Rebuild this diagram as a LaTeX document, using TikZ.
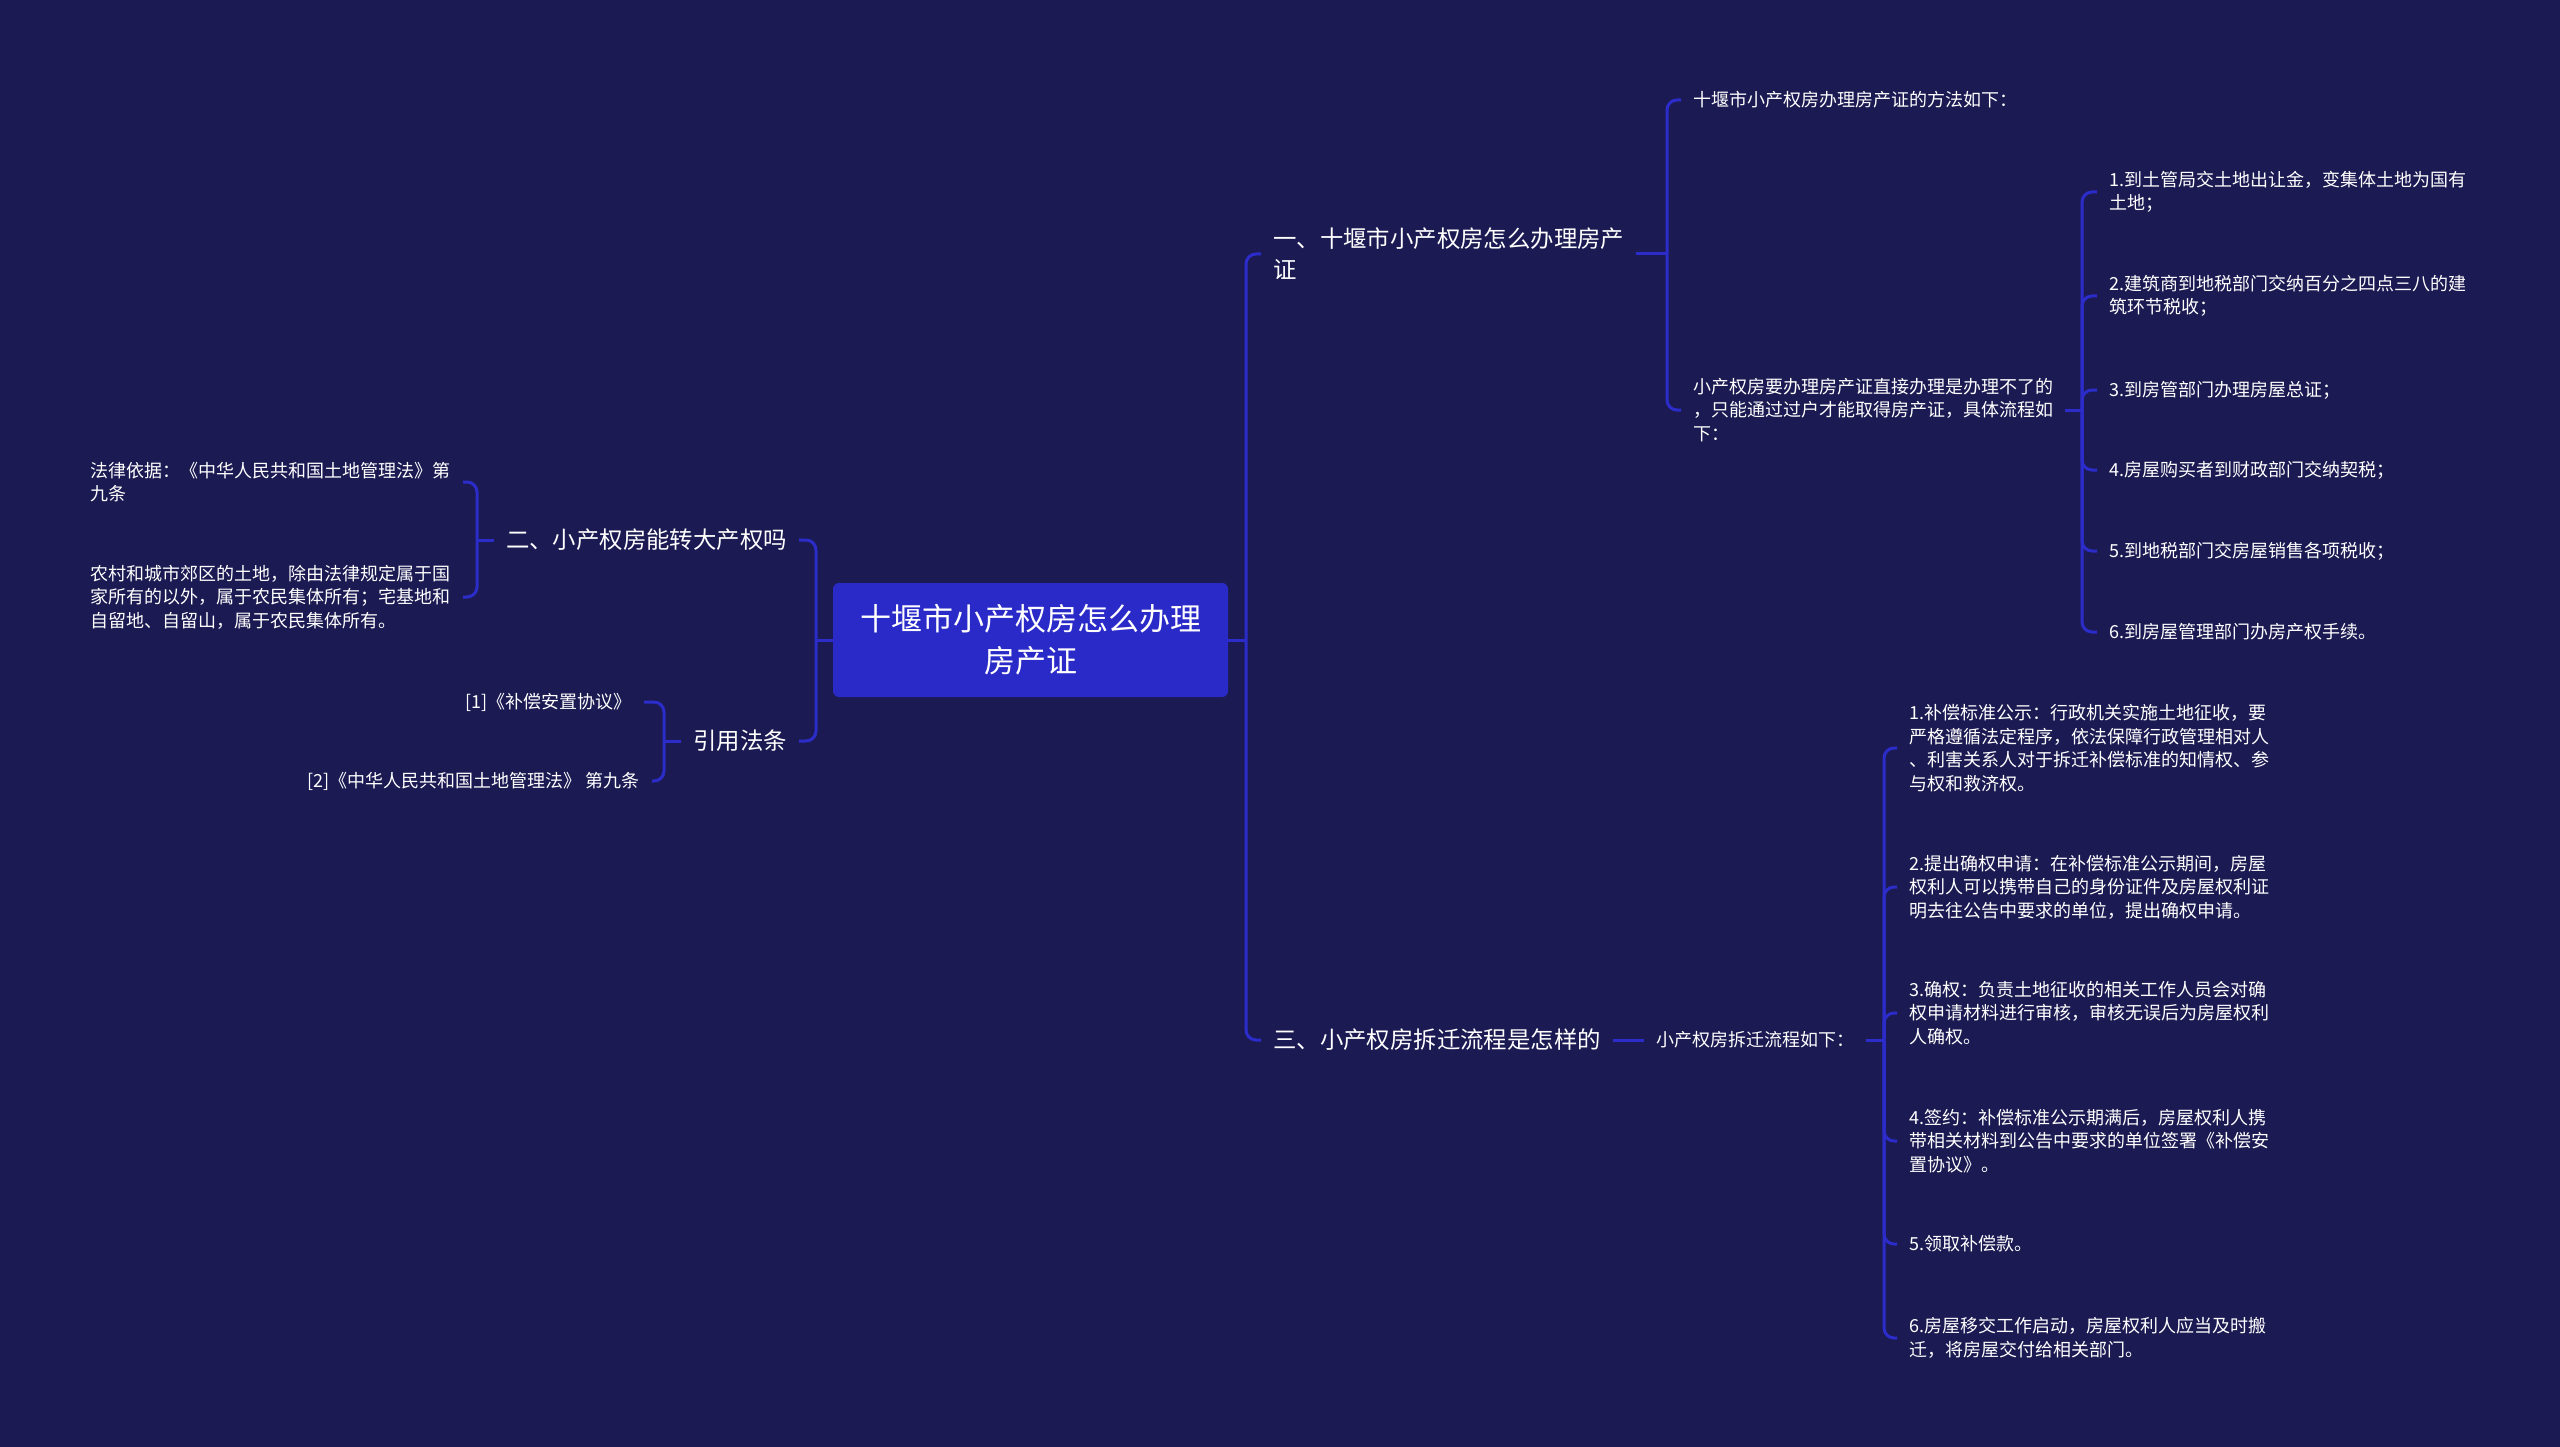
\documentclass[tikz,border=0pt]{standalone}
\usepackage{fontspec}
\setmainfont{Noto Sans CJK SC}
\definecolor{bg}{HTML}{1B1A52}
\definecolor{rootfill}{HTML}{2A2AC8}
\definecolor{edge}{HTML}{2C2CCB}
\tikzset{
  conn/.style={draw=edge, line width=3pt, rounded corners=10pt},
  rootbox/.style={fill=rootfill, rounded corners=6pt, text=white, align=center,
    minimum width=395pt, minimum height=114pt, inner sep=0pt,
    font=\fontsize{31}{42}\selectfont},
  lvlone/.style={text=white, font=\fontsize{23.4}{31}\selectfont, align=left, inner xsep=12pt, inner ysep=3pt},
  leaf/.style={text=white, font=\fontsize{18}{23.5}\selectfont, align=left, inner xsep=12pt, inner ysep=3pt}
}
\begin{document}
\begin{tikzpicture}[x=1pt,y=-1pt]
\fill[bg] (0,0) rectangle (2560,1447);
\useasboundingbox (0,0) rectangle (2560,1447);

% root
\node[rootbox] (root) at (1030.5,640) {十堰市小产权房怎么办理\\房产证};

% right branches
\node[lvlone, anchor=west] (b1) at (1261,254) {一、十堰市小产权房怎么办理房产\\证};
\node[lvlone, anchor=west] (b3) at (1261,1040) {三、小产权房拆迁流程是怎样的};
% left branches
\node[lvlone, anchor=east] (b2) at (799,540) {二、小产权房能转大产权吗};
\node[lvlone, anchor=east] (b4) at (799,741) {引用法条};

% branch 1 children
\node[leaf, anchor=west] (b1a) at (1681,100) {十堰市小产权房办理房产证的方法如下：};
\node[leaf, anchor=west] (b1b) at (1681,410) {小产权房要办理房产证直接办理是办理不了的\\，只能通过过户才能取得房产证，具体流程如\\下：};

\node[leaf, anchor=west] (l1) at (2097,192) {1.到土管局交土地出让金，变集体土地为国有\\土地；};
\node[leaf, anchor=west] (l2) at (2097,296) {2.建筑商到地税部门交纳百分之四点三八的建\\筑环节税收；};
\node[leaf, anchor=west] (l3) at (2097,390) {3.到房管部门办理房屋总证；};
\node[leaf, anchor=west] (l4) at (2097,470) {4.房屋购买者到财政部门交纳契税；};
\node[leaf, anchor=west] (l5) at (2097,551) {5.到地税部门交房屋销售各项税收；};
\node[leaf, anchor=west] (l6) at (2097,632) {6.到房屋管理部门办房产权手续。};

% branch 3 children
\node[leaf, anchor=west] (b3a) at (1644,1040) {小产权房拆迁流程如下：};
\node[leaf, anchor=west] (m1) at (1897,748) {1.补偿标准公示：行政机关实施土地征收，要\\严格遵循法定程序，依法保障行政管理相对人\\、利害关系人对于拆迁补偿标准的知情权、参\\与权和救济权。};
\node[leaf, anchor=west] (m2) at (1897,887) {2.提出确权申请：在补偿标准公示期间，房屋\\权利人可以携带自己的身份证件及房屋权利证\\明去往公告中要求的单位，提出确权申请。};
\node[leaf, anchor=west] (m3) at (1897,1013) {3.确权：负责土地征收的相关工作人员会对确\\权申请材料进行审核，审核无误后为房屋权利\\人确权。};
\node[leaf, anchor=west] (m4) at (1897,1141) {4.签约：补偿标准公示期满后，房屋权利人携\\带相关材料到公告中要求的单位签署《补偿安\\置协议》。};
\node[leaf, anchor=west] (m5) at (1897,1244) {5.领取补偿款。};
\node[leaf, anchor=west] (m6) at (1897,1338) {6.房屋移交工作启动，房屋权利人应当及时搬\\迁，将房屋交付给相关部门。};

% branch 2 children
\node[leaf, anchor=east] (c1) at (463,482) {法律依据：《中华人民共和国土地管理法》第\\九条};
\node[leaf, anchor=east] (c2) at (463,597) {农村和城市郊区的土地，除由法律规定属于国\\家所有的以外，属于农民集体所有；宅基地和\\自留地、自留山，属于农民集体所有。};
% branch 4 children
\node[leaf, anchor=east] (d1) at (644,702) {[1]《补偿安置协议》};
\node[leaf, anchor=east] (d2) at (652,781) {[2]《中华人民共和国土地管理法》 第九条};

% junction coordinates
\coordinate (jr) at (1246,640);
\coordinate (jl) at (816,640);
\coordinate (j1) at (1667,254);
\coordinate (j1b) at (2082,410);
\coordinate (j3) at (1884,1040);
\coordinate (j2) at (477,540);
\coordinate (j4) at (664,741);

% root connectors
\draw[conn] (root.east) -- (jr);
\draw[conn] (jr) |- (b1.west);
\draw[conn] (jr) |- (b3.west);
\draw[conn] (root.west) -- (jl);
\draw[conn] (jl) |- (b2.east);
\draw[conn] (jl) |- (b4.east);

% branch 1
\draw[conn] (b1.east) -- (j1);
\draw[conn] (j1) |- (b1a.west);
\draw[conn] (j1) |- (b1b.west);
\draw[conn] (b1b.east) -- (j1b);
\foreach \n in {l1,l2,l3,l4,l5,l6} { \draw[conn] (j1b) |- (\n.west); }

% branch 3
\draw[conn] (b3.east) -- (b3a.west);
\draw[conn] (b3a.east) -- (j3);
\foreach \n in {m1,m2,m3,m4,m5,m6} { \draw[conn] (j3) |- (\n.west); }

% branch 2
\draw[conn] (b2.west) -- (j2);
\draw[conn] (j2) |- (c1.east);
\draw[conn] (j2) |- (c2.east);

% branch 4
\draw[conn] (b4.west) -- (j4);
\draw[conn] (j4) |- (d1.east);
\draw[conn] (j4) |- (d2.east);
\end{tikzpicture}
\end{document}
